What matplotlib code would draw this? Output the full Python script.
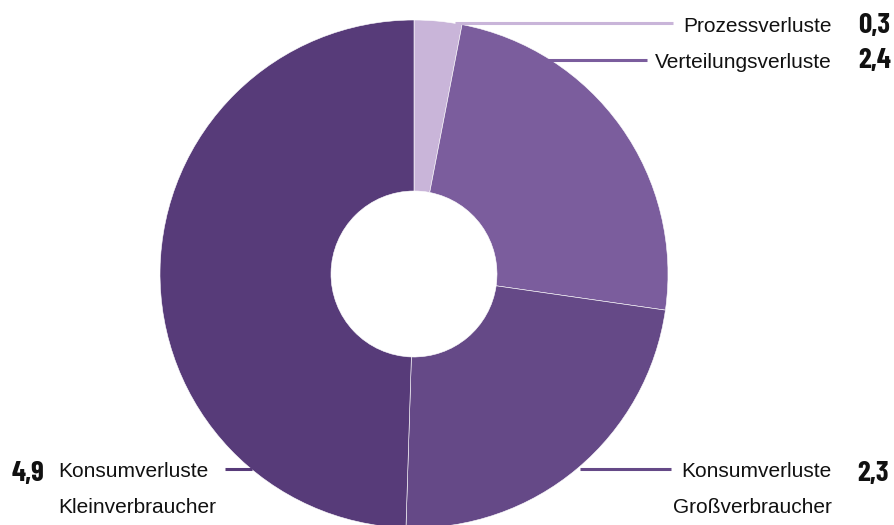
import matplotlib
matplotlib.use("Agg")
import matplotlib.pyplot as plt

categories = ["Prozessverluste", "Verteilungsverluste", "Konsumverluste\nGroßverbraucher", "Konsumverluste\nKleinverbraucher"]
values = [0.3, 2.4, 2.3, 4.9]
value_labels = ["0,3", "2,4", "2,3", "4,9"]
colors = ["#c9b5d9", "#7b5d9d", "#654987", "#573b79"]

W, H = 895, 525
fig = plt.figure(figsize=(W / 100, H / 100), dpi=100)
ax = fig.add_axes([0, 0, 1, 1])

cx, cy, R, r_hole = 414, H - 274, 254, 83
ax.pie(values, colors=colors, startangle=90, counterclock=False,
       center=(cx, cy), radius=R,
       wedgeprops=dict(width=R - r_hole, edgecolor="white", linewidth=0.4))
ax.set_xlim(0, W)
ax.set_ylim(0, H)
ax.set_aspect("equal")
ax.axis("off")

txt_font = ["Liberation Sans", "DejaVu Sans"]
num_font = ["Barlow Condensed", "DejaVu Sans"]
fs_txt = 15
fs_num = 21

# label layout: (line x0, line x1, line y, text x, text baseline y, ha, number x, number ha, number baseline y)
layout = [
    (455, 673, 23, 832, 32, "right", 858, "left", 33),
    (545, 647, 60, 832, 68, "right", 858, "left", 68),
    (580, 671, 469, 832, 477, "right", 857, "left", 481),
    (225, 252, 469, 58, 477, "left", 44, "right", 481),
]
for (x0, x1, ly, tx, ty, ha, nx, nha, ny), cat, lab, col in zip(layout, categories, value_labels, colors):
    ax.plot([x0, x1], [H - ly, H - ly], color=col, lw=2.2, solid_capstyle="butt")
    lines = cat.split("\n")
    for i, ln in enumerate(lines):
        ax.text(tx, H - ty - i * 36, ln, ha=ha, va="baseline", fontsize=fs_txt,
                family=txt_font, color="#111111")
    ax.text(nx, H - ny, lab, ha=nha, va="baseline", fontsize=fs_num,
            family=num_font, fontweight="bold", color="#111111")

fig.savefig("out.png", dpi=100)
